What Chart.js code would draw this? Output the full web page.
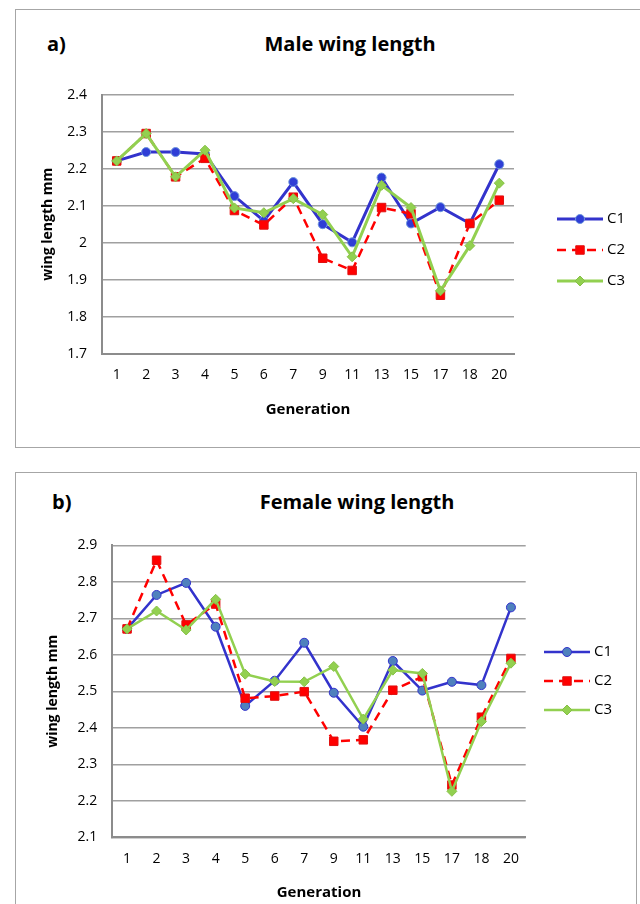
<!DOCTYPE html>
<html>
<head>
<meta charset="utf-8">
<script src="https://cdn.jsdelivr.net/npm/chart.js@4.4.0/dist/chart.umd.min.js"></script>
<style>
  body { margin: 0; width: 640px; height: 904px; overflow: hidden; position: relative; background: #fff; font-family: 'Open Sans', sans-serif; }
  .box { position: absolute; border: 1.5px solid #a6a6a6; box-sizing: border-box; }
  #boxA { left: 15px; top: 9px; width: 640px; height: 439px; }
  #boxB { left: 15px; top: 472px; width: 622px; height: 460px; }
  .txt { position: absolute; font-weight: bold; font-size: 20px; color: #000; line-height: 24px; white-space: nowrap; }
  canvas { position: absolute; }
</style>
</head>
<body>
<div class="box" id="boxA"></div>
<div class="box" id="boxB"></div>
<div class="txt" style="left:47px; top:32px;">a)</div>
<div class="txt" style="left:350px; top:32px; transform:translateX(-50%);">Male wing length</div>
<div class="txt" style="left:52px; top:490px;">b)</div>
<div class="txt" style="left:357px; top:490px; transform:translateX(-50%);">Female wing length</div>
<canvas id="male" width="625" height="438" style="left:15px; top:9px;"></canvas>
<canvas id="female" width="622" height="432" style="left:15px; top:472px;"></canvas>
<script>
// generations on the x axis
const generations = ['1', '2', '3', '4', '5', '6', '7', '9', '11', '13', '15', '17', '18', '20'];

// male wing length (mm)
const maleC1 = [2.221, 2.245, 2.245, 2.240, 2.126, 2.059, 2.164, 2.050, 2.001, 2.176, 2.052, 2.096, 2.052, 2.212];
const maleC2 = [2.221, 2.295, 2.178, 2.228, 2.087, 2.048, 2.123, 1.958, 1.925, 2.095, 2.078, 1.858, 2.052, 2.115];
const maleC3 = [2.221, 2.295, 2.178, 2.250, 2.094, 2.081, 2.119, 2.076, 1.962, 2.155, 2.095, 1.870, 1.992, 2.161];

// female wing length (mm)
const femaleC1 = [2.671, 2.764, 2.797, 2.677, 2.460, 2.529, 2.633, 2.496, 2.403, 2.583, 2.502, 2.526, 2.517, 2.730];
const femaleC2 = [2.671, 2.859, 2.682, 2.739, 2.481, 2.487, 2.499, 2.363, 2.367, 2.503, 2.540, 2.243, 2.429, 2.590];
const femaleC3 = [2.671, 2.720, 2.668, 2.752, 2.547, 2.527, 2.526, 2.568, 2.424, 2.558, 2.549, 2.226, 2.417, 2.577];

const BLUE = '#3333cc';
const RED = '#ff0000';
const GREEN = '#92d050';

// Excel style legend: line segment with the marker in the middle
const lineLegend = {
    id: 'lineLegend',
    afterDraw(chart, args, opts) {
        const ctx = chart.ctx;
        chart.data.datasets.forEach((ds, i) => {
            const y = opts.y + i * opts.gap;
            ctx.save();
            ctx.strokeStyle = ds.borderColor;
            ctx.lineWidth = ds.borderWidth;
            ctx.setLineDash(ds.borderDash || []);
            ctx.beginPath();
            ctx.moveTo(opts.x, y);
            ctx.lineTo(opts.x + opts.len, y);
            ctx.stroke();
            ctx.setLineDash([]);
            ctx.fillStyle = ds.pointBackgroundColor;
            ctx.strokeStyle = ds.pointBorderColor;
            ctx.lineWidth = ds.pointBorderWidth;
            Chart.helpers.drawPoint(ctx, {
                pointStyle: ds.pointStyle,
                radius: ds.pointRadius,
                borderWidth: ds.pointBorderWidth,
                rotation: 0
            }, opts.x + opts.len / 2, y);
            ctx.fillStyle = '#000';
            ctx.font = '15px "Open Sans"';
            ctx.textBaseline = 'middle';
            ctx.fillText(ds.label, opts.x + opts.len + 4, y);
            ctx.restore();
        });
    }
};

function makeChart(canvas, cfg) {
    const grey = '#a0a0a0';
    return new Chart(canvas, {
        type: 'line',
        data: {
            labels: generations,
            datasets: [
                {
                    label: 'C1', data: cfg.c1, order: 2,
                    borderColor: BLUE, borderWidth: cfg.lw,
                    pointStyle: 'circle', pointRadius: 4.5,
                    pointBackgroundColor: cfg.c1Fill, pointBorderColor: cfg.c1Edge, pointBorderWidth: 1
                },
                {
                    label: 'C2', data: cfg.c2, order: 1,
                    borderColor: RED, borderWidth: 2.5, borderDash: [9, 6],
                    pointStyle: 'rect', pointRadius: 6,
                    pointBackgroundColor: RED, pointBorderColor: '#e01010', pointBorderWidth: 1
                },
                {
                    label: 'C3', data: cfg.c3, order: 0,
                    borderColor: GREEN, borderWidth: cfg.lw,
                    pointStyle: 'rectRot', pointRadius: 5,
                    pointBackgroundColor: GREEN, pointBorderColor: '#86c046', pointBorderWidth: 1
                }
            ]
        },
        options: {
            responsive: false,
            animation: false,
            events: [],
            layout: { padding: { left: 0, top: cfg.top, right: cfg.right, bottom: 0 } },
            plugins: {
                legend: { display: false },
                tooltip: { enabled: false },
                lineLegend: cfg.legend
            },
            scales: {
                x: {
                    offset: true,
                    grid: { display: false, drawTicks: false },
                    border: { display: true, color: '#8c8c8c', width: 2 },
                    ticks: { color: '#000', font: { family: 'Open Sans', size: 14 }, padding: 13, maxRotation: 0, autoSkip: false },
                    title: { display: true, text: 'Generation', color: '#000', font: { family: 'Open Sans', size: 15, weight: 'bold' }, padding: { top: 0, bottom: cfg.xTitlePad } },
                    afterFit: s => { s.height = cfg.xHeight; }
                },
                y: {
                    min: cfg.min, max: cfg.max,
                    grid: { color: grey, lineWidth: 1.5, drawTicks: false },
                    border: { display: true, color: '#8c8c8c', width: 2 },
                    ticks: { stepSize: 0.1, color: '#000', font: { family: 'Open Sans', size: 14 }, padding: 15,
                             callback: v => Math.round(v * 10) / 10 },
                    title: { display: true, text: 'wing length mm', color: '#000', font: { family: 'Open Sans', size: 14, weight: 'bold' }, padding: { top: cfg.yTitlePad, bottom: 0 } },
                    afterFit: s => { s.width = cfg.yWidth; }
                }
            }
        },
        plugins: [lineLegend]
    });
}

makeChart(document.getElementById('male'), {
    c1: maleC1, c2: maleC2, c3: maleC3,
    c1Fill: '#2f3ed6', c1Edge: '#6c94dc', lw: 3,
    min: 1.7, max: 2.4,
    top: 85.7, right: 126, yWidth: 87, xHeight: 93.3,
    xTitlePad: 28, yTitlePad: 25,
    legend: { x: 542, y: 210, gap: 31, len: 46 }
});

makeChart(document.getElementById('female'), {
    c1: femaleC1, c2: femaleC2, c3: femaleC3,
    c1Fill: '#4f81bd', c1Edge: '#3333cc', lw: 2.5,
    min: 2.1, max: 2.9,
    top: 73.3, right: 111.3, yWidth: 97.3, xHeight: 66.7,
    xTitlePad: 2, yTitlePad: 30,
    legend: { x: 529, y: 180, gap: 29, len: 46 }
});
</script>
</body>
</html>
